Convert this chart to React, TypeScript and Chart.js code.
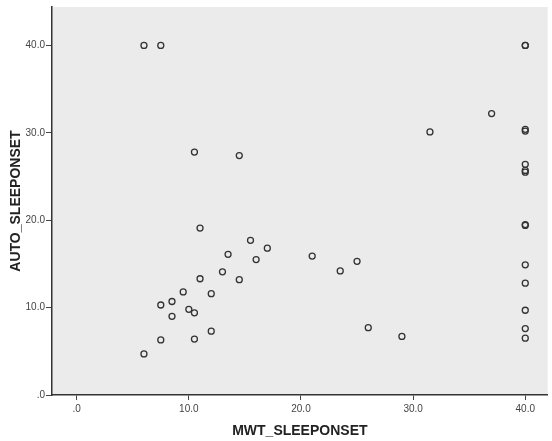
import React, { useEffect, useRef } from "react";
import { Chart, registerables } from "chart.js";

Chart.register(...registerables);

const mwtSleepOnset: number[] = [
  6.0, 7.5, 10.5, 14.5, 11.0, 15.5, 17.0, 13.5, 16.0, 13.0, 11.0, 14.5, 9.5, 12.0,
  8.5, 7.5, 10.0, 10.5, 8.5, 12.0, 7.5, 10.5, 6.0, 31.5, 21.0, 23.5, 25.0, 26.0,
  29.0, 37.0, 40.0, 40.0, 40.0, 40.0, 40.0, 40.0, 40.0, 40.0, 40.0, 40.0, 40.0,
  40.0, 40.0, 40.0,
];
const autoSleepOnset: number[] = [
  40.0, 40.0, 27.8, 27.4, 19.1, 17.7, 16.8, 16.1, 15.5, 14.1, 13.3, 13.2, 11.8, 11.6,
  10.7, 10.3, 9.8, 9.4, 9.0, 7.3, 6.3, 6.4, 4.7, 30.1, 15.9, 14.2, 15.3, 7.7,
  6.7, 32.2, 40.0, 40.0, 30.2, 30.4, 26.4, 25.5, 25.7, 19.4, 19.5, 14.9, 12.8,
  9.7, 7.6, 6.5,
];
const xTicks: number[] = [0, 10, 20, 30, 40];
const yTicks: number[] = [0, 10, 20, 30, 40];
const xTitle = "MWT_SLEEPONSET";
const yTitle = "AUTO_SLEEPONSET";

const FONT = 'Arial, "Liberation Sans", sans-serif';
const fmt = (v: number) => (v === 0 ? ".0" : v.toFixed(1));

const plotBg = {
  id: "plotBg",
  beforeDraw(chart: any) {
    const { ctx, chartArea } = chart;
    ctx.save();
    ctx.fillStyle = "#ebebeb";
    ctx.fillRect(chartArea.left, chartArea.top, chartArea.right - chartArea.left, chartArea.bottom - chartArea.top);
    ctx.restore();
  },
};

export default function App() {
  const ref = useRef<HTMLCanvasElement>(null);
  useEffect(() => {
    const data = mwtSleepOnset.map((x, i) => ({ x, y: autoSleepOnset[i] }));
    const chart = new Chart(ref.current as HTMLCanvasElement, {
      type: "scatter",
      data: {
        datasets: [
          {
            data,
            backgroundColor: "rgba(0,0,0,0)",
            borderColor: "#333333",
            borderWidth: 1.3,
            pointRadius: 3,
            pointHoverRadius: 3,
          },
        ],
      },
      plugins: [plotBg],
      options: {
        responsive: false,
        animation: false,
        layout: { padding: { top: 5, right: 0, bottom: 0, left: 0 } },
        plugins: { legend: { display: false }, tooltip: { enabled: false } },
        scales: {
          x: {
            type: "linear",
            min: -2.2,
            max: 42,
            afterBuildTicks: (s: any) => {
              s.ticks = xTicks.map((v) => ({ value: v }));
            },
            afterFit: (s: any) => {
              s.height = 46;
            },
            grid: { drawOnChartArea: false, drawTicks: true, tickLength: 5, color: "#444", lineWidth: 1 },
            border: { display: true, color: "#333", width: 1.5 },
            ticks: {
              color: "#444",
              font: { family: FONT, size: 10 },
              padding: 3,
              maxRotation: 0,
              callback: (v: any) => fmt(Number(v)),
            },
            title: {
              display: true,
              text: xTitle,
              color: "#222",
              font: { family: FONT, size: 14, weight: "bold" },
              padding: { top: 0, bottom: 1 },
            },
          },
          y: {
            type: "linear",
            min: 0,
            max: 44.4,
            afterBuildTicks: (s: any) => {
              s.ticks = yTicks.map((v) => ({ value: v }));
            },
            afterFit: (s: any) => {
              s.width = 52;
            },
            grid: { drawOnChartArea: false, drawTicks: true, tickLength: 6, color: "#444", lineWidth: 1 },
            border: { display: true, color: "#333", width: 1.5 },
            ticks: {
              color: "#444",
              font: { family: FONT, size: 10 },
              padding: 1,
              callback: (v: any) => fmt(Number(v)),
            },
            title: {
              display: true,
              text: yTitle,
              color: "#222",
              font: { family: FONT, size: 14, weight: "bold" },
              padding: { top: 8, bottom: 0 },
            },
          },
        },
      },
    });
    return () => chart.destroy();
  }, []);
  return (
    <div style={{ position: "absolute", left: 0, top: 0, width: 552, height: 441, background: "#fff" }}>
      <canvas ref={ref} width={552} height={441} />
    </div>
  );
}
